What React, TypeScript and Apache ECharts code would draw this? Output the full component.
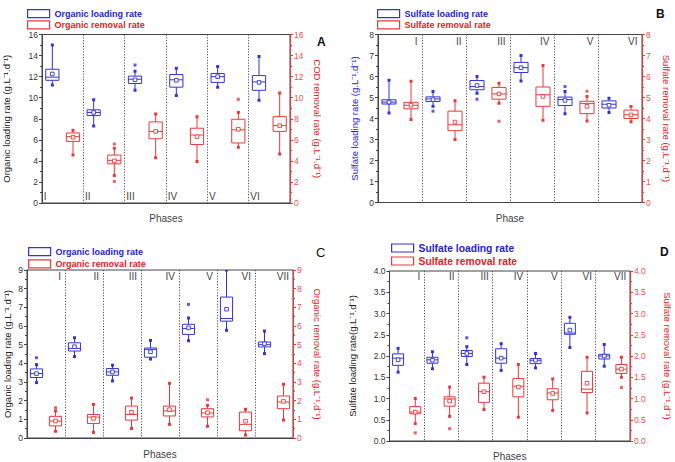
import React, { useEffect, useRef } from 'react';
import * as echarts from 'echarts';

// ---------- DATA ----------
const phases6 = ['I', 'II', 'III', 'IV', 'V', 'VI'];
const phases7 = ['I', 'II', 'III', 'IV', 'V', 'VI', 'VII'];

// Box values: [min, Q1, median, Q3, max]
// Panel A
const aLoadBox = [
  [11.2, 11.65, 11.95, 12.7, 15.0],
  [7.3, 8.3, 8.6, 8.85, 9.8],
  [10.7, 11.35, 11.75, 12.05, 12.5],
  [10.2, 11.0, 11.7, 12.2, 12.8],
  [11.0, 11.45, 12.0, 12.3, 12.95],
  [9.75, 10.7, 11.5, 12.1, 13.9],
];
const aLoadMean = [12.25, 8.6, 11.7, 11.65, 12.0, 11.45];
const aLoadOut = [[], [], [13.1], [], [], []];
const aRemBox = [
  [4.55, 5.85, 6.3, 6.65, 6.9],
  [2.6, 3.72, 4.05, 4.55, 5.2],
  [4.3, 6.1, 6.8, 7.7, 8.45],
  [3.95, 5.55, 6.45, 7.1, 8.2],
  [5.3, 5.7, 6.95, 7.95, 8.6],
  [4.65, 6.8, 7.35, 8.2, 10.45],
];
const aRemMean = [6.25, 4.0, 6.8, 6.3, 7.0, 7.35];
const aRemOut = [[], [5.6, 2.05], [], [], [9.85], []];

// Panel B
const bLoadBox = [
  [4.26, 4.69, 4.78, 4.89, 5.82],
  [4.58, 4.81, 4.93, 5.03, 5.29],
  [5.2, 5.37, 5.52, 5.81, 6.0],
  [5.79, 6.19, 6.42, 6.67, 7.0],
  [4.23, 4.62, 4.9, 5.02, 5.29],
  [4.29, 4.5, 4.68, 4.84, 4.97],
];
const bLoadMean = [4.78, 4.9, 5.57, 6.42, 4.86, 4.63];
const bLoadOut = [[], [4.35], [4.92], [], [5.52], []];
const bRemBox = [
  [3.95, 4.46, 4.63, 4.77, 5.77],
  [3.0, 3.42, 3.7, 4.35, 4.85],
  [4.73, 4.92, 5.17, 5.48, 5.68],
  [3.92, 4.58, 5.13, 5.5, 6.52],
  [3.88, 4.23, 4.72, 4.82, 5.05],
  [3.85, 4.0, 4.18, 4.4, 4.57],
];
const bRemMean = [4.63, 3.83, 5.17, 5.05, 4.58, 4.17];
const bRemOut = [[], [], [3.87], [], [5.3], []];

// Panel C
const cLoadBox = [
  [2.97, 3.24, 3.45, 3.7, 3.93],
  [4.36, 4.66, 4.8, 5.1, 5.37],
  [3.06, 3.36, 3.54, 3.72, 3.9],
  [4.23, 4.33, 4.75, 4.82, 5.23],
  [5.21, 5.55, 5.87, 6.09, 6.43],
  [5.77, 6.26, 6.4, 7.55, 9.0],
  [4.52, 4.88, 5.0, 5.14, 5.73],
];
const cLoadMean = [3.45, 4.89, 3.54, 4.62, 5.9, 6.9, 5.05];
const cLoadOut = [[4.3], [], [], [], [7.16], [], []];
const cRemBox = [
  [0.36, 0.65, 0.91, 1.16, 1.45],
  [0.3, 0.78, 1.12, 1.26, 1.8],
  [0.51, 0.96, 1.26, 1.71, 2.14],
  [0.73, 1.18, 1.45, 1.71, 2.93],
  [0.63, 1.13, 1.34, 1.57, 1.75],
  [0.16, 0.39, 0.73, 1.39, 1.54],
  [0.96, 1.57, 1.93, 2.25, 2.88],
];
const cRemMean = [0.91, 1.05, 1.38, 1.52, 1.36, 0.9, 1.96];
const cRemOut = [[1.62], [], [], [], [2.05], [], []];

// Panel D
const dLoadBox = [
  [1.62, 1.78, 1.95, 2.05, 2.18],
  [1.7, 1.83, 1.91, 1.97, 2.1],
  [1.8, 1.99, 2.06, 2.13, 2.22],
  [1.66, 1.83, 1.95, 2.17, 2.29],
  [1.72, 1.82, 1.9, 1.94, 2.06],
  [2.2, 2.51, 2.54, 2.77, 2.91],
  [1.76, 1.93, 2.0, 2.04, 2.27],
];
const dLoadMean = [1.91, 1.9, 2.06, 1.95, 1.9, 2.61, 2.0];
const dLoadOut = [[], [], [2.43], [], [], [], []];
const dRemBox = [
  [0.41, 0.64, 0.68, 0.81, 1.0],
  [0.58, 0.82, 0.99, 1.04, 1.27],
  [0.74, 0.91, 1.16, 1.36, 1.5],
  [0.56, 1.04, 1.29, 1.47, 1.8],
  [0.72, 0.97, 1.13, 1.23, 1.46],
  [0.66, 1.14, 1.22, 1.64, 1.97],
  [1.5, 1.59, 1.69, 1.8, 1.97],
];
const dRemMean = [0.68, 0.94, 1.16, 1.27, 1.12, 1.36, 1.69];
const dRemOut = [[0.19], [0.29], [], [], [], [], [1.26]];

// ---------- STYLE ----------
const BLUE = '#3434d6';
const RED = '#e83a3a';
const BLUE_TXT = '#2424d8';
const RED_TXT = '#e82026';
const AXIS = '#444';
const FONT = '"Liberation Sans", Arial, sans-serif';
const UNIT = ' (g.L\u207B\u00B9.d\u207B\u00B9)';

interface Panel {
  letter: string;
  letterBold: boolean;
  letterPos: [number, number];
  grid: { left: number; top: number; width: number; height: number };
  phases: string[];
  loadBox: number[][]; loadMean: number[]; loadOut: number[][];
  remBox: number[][]; remMean: number[]; remOut: number[][];
  loadName: string; remName: string;
  leftName: string; leftNameColor: string; leftGap: number;
  rightName: string; rightGap: number;
  xName: string; xGap: number;
  max: number; interval: number; decimals: number;
  legendPos: [number, number]; legendFont: number; legendGap: number;
  phaseLabelY: number; phaseAlign: 'left' | 'right'; phaseDx: number;
}

const panels: Panel[] = [
  {
    letter: 'A', letterBold: true, letterPos: [317, 36],
    grid: { left: 27, top: 34.5, width: 263, height: 168.5 },
    phases: phases6,
    loadBox: aLoadBox, loadMean: aLoadMean, loadOut: aLoadOut,
    remBox: aRemBox, remMean: aRemMean, remOut: aRemOut,
    loadName: 'Organic loading rate', remName: 'Organic removal rate',
    leftName: 'Organic loading rate' + UNIT, leftNameColor: '#222', leftGap: 31,
    rightName: 'COD removal rate' + UNIT, rightGap: 22,
    xName: 'Phases', xGap: 10,
    max: 16, interval: 2, decimals: 0,
    legendPos: [27, 9], legendFont: 9, legendGap: 2,
    phaseLabelY: 0.65, phaseAlign: 'left', phaseDx: -19,
  },
  {
    letter: 'B', letterBold: true, letterPos: [656, 8],
    grid: { left: 378, top: 34.5, width: 264, height: 168 },
    phases: phases6,
    loadBox: bLoadBox, loadMean: bLoadMean, loadOut: bLoadOut,
    remBox: bRemBox, remMean: bRemMean, remOut: bRemOut,
    loadName: 'Sulfate loading rate', remName: 'Sulfate removal rate',
    leftName: 'Sulfate loading rate' + UNIT, leftNameColor: BLUE_TXT, leftGap: 19,
    rightName: 'Sulfate removal rate' + UNIT, rightGap: 19,
    xName: 'Phase', xGap: 11,
    max: 8, interval: 1, decimals: 0,
    legendPos: [377, 9], legendFont: 9, legendGap: 2,
    phaseLabelY: 7.68, phaseAlign: 'right', phaseDx: 17.5,
  },
  {
    letter: 'C', letterBold: false, letterPos: [316, 246],
    grid: { left: 27, top: 270, width: 266, height: 168 },
    phases: phases7,
    loadBox: cLoadBox, loadMean: cLoadMean, loadOut: cLoadOut,
    remBox: cRemBox, remMean: cRemMean, remOut: cRemOut,
    loadName: 'Organic loading rate', remName: 'Organic removal rate',
    leftName: 'Organic loading rate' + UNIT, leftNameColor: '#222', leftGap: 15,
    rightName: 'Organic removal rate' + UNIT, rightGap: 19,
    xName: 'Phases', xGap: 11,
    max: 9, interval: 1, decimals: 0,
    legendPos: [28, 247], legendFont: 9, legendGap: 3,
    phaseLabelY: 8.63, phaseAlign: 'right', phaseDx: 15,
  },
  {
    letter: 'D', letterBold: true, letterPos: [660, 246],
    grid: { left: 389.5, top: 271, width: 240.5, height: 171 },
    phases: phases7,
    loadBox: dLoadBox, loadMean: dLoadMean, loadOut: dLoadOut,
    remBox: dRemBox, remMean: dRemMean, remOut: dRemOut,
    loadName: 'Sulfate loading rate', remName: 'Sulfate removal rate',
    leftName: 'Sulfate loading rate' + UNIT.trim(), leftNameColor: '#222', leftGap: 32,
    rightName: 'Sulfate removal rate' + UNIT, rightGap: 32,
    xName: 'Phases', xGap: 10,
    max: 4, interval: 0.5, decimals: 1,
    legendPos: [391, 243], legendFont: 10.3, legendGap: 3,
    phaseLabelY: 3.88, phaseAlign: 'right', phaseDx: 13.5,
  },
];

function makeRender(color: string) {
  return (_params: any, api: any) => {
    const x = api.value(0);
    const pMin = api.coord([x, api.value(1)]);
    const pQ1 = api.coord([x, api.value(2)]);
    const pMed = api.coord([x, api.value(3)]);
    const pQ3 = api.coord([x, api.value(4)]);
    const pMax = api.coord([x, api.value(5)]);
    const pMean = api.coord([x, api.value(6)]);
    const bw = api.size([1, 0])[0] * 0.64;
    const cx = pMin[0];
    const half = bw / 2;
    const st = { stroke: color, lineWidth: 1 };
    return {
      type: 'group',
      children: [
        { type: 'line', shape: { x1: cx, y1: pMax[1], x2: cx, y2: pQ3[1] }, style: st },
        { type: 'line', shape: { x1: cx, y1: pQ1[1], x2: cx, y2: pMin[1] }, style: st },
        {
          type: 'rect',
          shape: { x: cx - half, y: pQ3[1], width: bw, height: pQ1[1] - pQ3[1] },
          style: { fill: '#fff', stroke: color, lineWidth: 1 },
        },
        { type: 'line', shape: { x1: cx - half, y1: pMed[1], x2: cx + half, y2: pMed[1] }, style: st },
        {
          type: 'rect',
          shape: { x: cx - 1.8, y: pMean[1] - 1.8, width: 3.6, height: 3.6 },
          style: { fill: '#fff', stroke: color, lineWidth: 0.9 },
        },
        { type: 'rect', shape: { x: cx - 1.5, y: pMax[1] - 1.5, width: 3, height: 3 }, style: { fill: color } },
        { type: 'rect', shape: { x: cx - 1.5, y: pMin[1] - 1.5, width: 3, height: 3 }, style: { fill: color } },
      ],
    };
  };
}

function buildOption() {
  const grid: any[] = [];
  const xAxis: any[] = [];
  const yAxis: any[] = [];
  const series: any[] = [];
  const legend: any[] = [];
  const title: any[] = [];

  panels.forEach((p, g) => {
    grid.push({ ...p.grid, show: true, borderColor: AXIS, borderWidth: 1, backgroundColor: 'transparent' });
    const slots: string[] = [];
    p.phases.forEach((ph) => { slots.push(ph + '-load'); slots.push(ph + '-rem'); });
    // slot axis (index 2g)
    xAxis.push({
      type: 'category', gridIndex: g, data: slots, position: 'bottom',
      axisLine: { show: true, lineStyle: { color: AXIS, width: 1 } },
      axisTick: { show: false }, axisLabel: { show: false }, splitLine: { show: false },
      name: p.xName, nameLocation: 'middle', nameGap: p.xGap,
      nameTextStyle: { fontFamily: FONT, fontSize: 10, color: '#444' },
    });
    // phase axis (index 2g+1) – separators
    xAxis.push({
      type: 'category', gridIndex: g, data: p.phases, position: 'bottom',
      axisLine: { show: false }, axisTick: { show: false }, axisLabel: { show: false },
      splitLine: { show: true, lineStyle: { color: '#555', width: 1, type: [1.2, 1.6] } },
    });
    const fmt = (v: number) => v.toFixed(p.decimals);
    yAxis.push({
      type: 'value', gridIndex: g, position: 'left', min: 0, max: p.max, interval: p.interval,
      axisLine: { show: true, lineStyle: { color: AXIS, width: 1 } },
      axisTick: { show: true, length: 3, lineStyle: { color: AXIS } },
      minorTick: { show: true, splitNumber: 2, length: 2, lineStyle: { color: AXIS } },
      axisLabel: { fontFamily: FONT, fontSize: 8.5, color: '#333', margin: 4, formatter: fmt },
      splitLine: { show: false },
      name: p.leftName, nameLocation: 'middle', nameGap: p.leftGap,
      nameTextStyle: { fontFamily: FONT, fontSize: 9.5, color: p.leftNameColor },
    });
    yAxis.push({
      type: 'value', gridIndex: g, position: 'right', min: 0, max: p.max, interval: p.interval,
      axisLine: { show: true, lineStyle: { color: RED, width: 1 } },
      axisTick: { show: true, length: 3, lineStyle: { color: RED } },
      minorTick: { show: true, splitNumber: 2, length: 2, lineStyle: { color: RED } },
      axisLabel: { fontFamily: FONT, fontSize: 8.5, color: '#f05050', margin: 4, formatter: fmt },
      splitLine: { show: false },
      name: p.rightName, nameLocation: 'middle', nameGap: p.rightGap, nameRotate: -90,
      nameTextStyle: { fontFamily: FONT, fontSize: 9.5, color: RED_TXT },
    });

    const xi = 2 * g;
    const yl = 2 * g;
    const yr = 2 * g + 1;
    series.push({
      type: 'custom', name: p.loadName, xAxisIndex: xi, yAxisIndex: yl, clip: true,
      renderItem: makeRender(BLUE), encode: { x: 0, y: [1, 2, 3, 4, 5, 6] },
      itemStyle: { color: BLUE },
      data: p.loadBox.map((b, i) => [2 * i, ...b, p.loadMean[i]]),
      z: 3,
    });
    series.push({
      type: 'custom', name: p.remName, xAxisIndex: xi, yAxisIndex: yr, clip: true,
      renderItem: makeRender(RED), encode: { x: 0, y: [1, 2, 3, 4, 5, 6] },
      itemStyle: { color: RED },
      data: p.remBox.map((b, i) => [2 * i + 1, ...b, p.remMean[i]]),
      z: 3,
    });
    const outPts = (arr: number[][], off: number) => {
      const pts: number[][] = [];
      arr.forEach((vals, i) => vals.forEach((v) => pts.push([2 * i + off, v])));
      return pts;
    };
    series.push({
      type: 'scatter', name: p.loadName, xAxisIndex: xi, yAxisIndex: yl,
      symbol: 'rect', symbolSize: 3, itemStyle: { color: BLUE }, silent: true,
      data: outPts(p.loadOut, 0), z: 4,
    });
    series.push({
      type: 'scatter', name: p.remName, xAxisIndex: xi, yAxisIndex: yr,
      symbol: 'rect', symbolSize: 3, itemStyle: { color: RED }, silent: true,
      data: outPts(p.remOut, 1), z: 4,
    });
    // phase labels
    series.push({
      type: 'scatter', name: 'phase-labels-' + g, xAxisIndex: xi + 1, yAxisIndex: yl,
      symbolSize: 0, itemStyle: { color: '#fff', opacity: 1 }, silent: true,
      data: p.phases.map((_, k) => [k, p.phaseLabelY]),
      label: {
        show: true,
        position: p.phaseAlign === 'left' ? 'right' : 'left',
        distance: p.phaseAlign === 'left' ? p.phaseDx : -p.phaseDx,
        formatter: (prm: any) => p.phases[prm.dataIndex],
        fontFamily: FONT, fontSize: 10, color: '#444',
      },
      z: 5,
    });

    legend.push({
      left: p.legendPos[0], top: p.legendPos[1], orient: 'vertical',
      itemWidth: 22, itemHeight: 8, itemGap: p.legendGap, selectedMode: false,
      padding: 0,
      textStyle: { fontFamily: FONT, fontSize: p.legendFont, fontWeight: 'bold' },
      data: [
        {
          name: p.loadName, icon: 'rect',
          itemStyle: { color: '#fff', borderColor: BLUE, borderWidth: 1.2 },
          textStyle: { color: BLUE_TXT, fontWeight: 'bold', fontSize: p.legendFont, fontFamily: FONT },
        },
        {
          name: p.remName, icon: 'rect',
          itemStyle: { color: '#fff', borderColor: RED, borderWidth: 1.2 },
          textStyle: { color: RED_TXT, fontWeight: 'bold', fontSize: p.legendFont, fontFamily: FONT },
        },
      ],
    });

    title.push({
      text: p.letter, left: p.letterPos[0], top: p.letterPos[1], padding: 0,
      textStyle: {
        fontFamily: FONT, fontSize: p.letterBold ? 12 : 13,
        fontWeight: p.letterBold ? 'bold' : 'normal', color: '#111',
      },
    });
  });

  return { animation: false, backgroundColor: '#fff', title, legend, grid, xAxis, yAxis, series };
}

export default function App() {
  const ref = useRef<HTMLDivElement>(null);
  useEffect(() => {
    document.body.style.margin = '0';
    if (!ref.current) return;
    const chart = echarts.init(ref.current, undefined, { renderer: 'svg' });
    chart.setOption(buildOption() as any);
    return () => chart.dispose();
  }, []);
  return <div ref={ref} style={{ width: 675, height: 462 }} />;
}
